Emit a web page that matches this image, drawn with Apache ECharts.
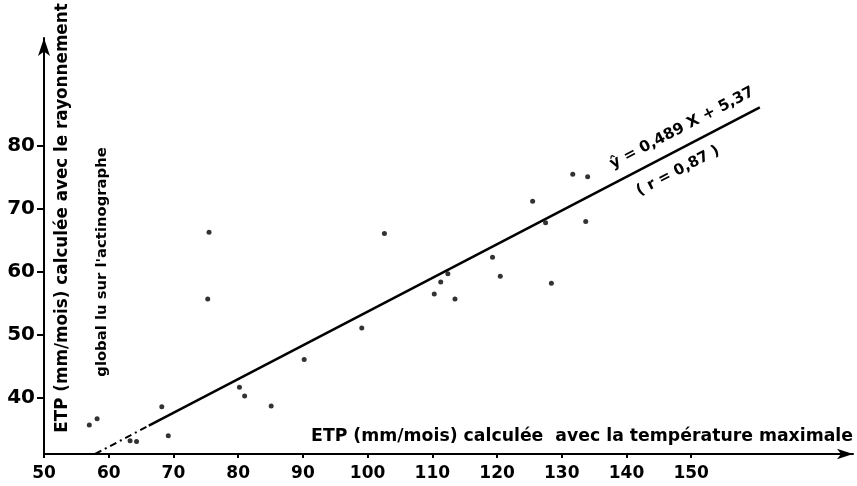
<!DOCTYPE html>
<html>
<head>
<meta charset="utf-8">
<script src="https://cdn.jsdelivr.net/npm/echarts@6/dist/echarts.min.js"></script>
<style>
  html, body { margin: 0; padding: 0; background: #fff; }
  #chart { width: 857px; height: 486px; }
</style>
</head>
<body>
<div id="chart"></div>
<script>
// ETP température maximale (x) / ETP rayonnement global (y)
const etpTmax = [57.0, 58.2, 63.3, 64.3, 68.2, 69.2, 75.3, 75.5, 80.2, 81.0, 85.1, 90.2, 99.1,
  102.6, 110.3, 111.3, 112.4, 113.5, 119.3, 120.5, 125.5, 127.5, 128.4, 131.7, 133.7, 134.0];
const etpRayon = [35.7, 36.7, 33.2, 33.1, 38.6, 34.0, 55.7, 66.3, 41.7, 40.3, 38.7, 46.1, 51.1,
  66.1, 56.5, 58.4, 59.7, 55.7, 62.3, 59.3, 71.2, 67.8, 58.2, 75.5, 68.0, 75.1];

// droite de régression telle que tracée (partie pointillée puis pleine)
const droiteTiretsX = [57.9, 66.2];
const droiteTiretsY = [31.1, 35.6];
const droiteX = [66.2, 160.6];
const droiteY = [35.6, 86.1];

const xTicks = [50, 60, 70, 80, 90, 100, 110, 120, 130, 140, 150];
const yTicks = [40, 50, 60, 70, 80];

const titreX = "ETP (mm/mois) calculée  avec la température maximale";
const titreY1 = "ETP (mm/mois) calculée avec le rayonnement";
const titreY2 = "global lu sur l'actinographe";
const equation = "ŷ = 0,489 X + 5,37";
const correlation = "( r = 0,87 )";

const font = "DejaVu Sans";
const chart = echarts.init(document.getElementById("chart"));

const zip = (xs, ys) => xs.map((x, i) => [x, ys[i]]);

const option = {
    backgroundColor: "#fff",
    animation: false,
    grid: { left: 44, right: 4, top: 38, bottom: 32 },
    xAxis: {
        type: "value",
        min: 50,
        max: 175,
        splitLine: { show: false },
        axisLine: {
            lineStyle: { color: "#000", width: 2 },
            symbol: ["none", "arrow"],
            symbolSize: [8, 16]
        },
        axisTick: { customValues: xTicks, length: 4, lineStyle: { color: "#000", width: 2 } },
        axisLabel: {
            customValues: xTicks,
            margin: 11,
            color: "#000",
            fontFamily: font,
            fontWeight: "bold",
            fontSize: 17
        }
    },
    yAxis: {
        type: "value",
        min: 31.1,
        max: 97.1,
        splitLine: { show: false },
        axisLine: {
            lineStyle: { color: "#000", width: 2 },
            symbol: ["none", "arrow"],
            symbolSize: [9, 18]
        },
        axisTick: { customValues: yTicks, length: 7, lineStyle: { color: "#000", width: 2 } },
        axisLabel: {
            customValues: yTicks,
            margin: 9,
            color: "#000",
            fontFamily: font,
            fontWeight: "bold",
            fontSize: 20
        }
    },
    series: [
        {
            type: "scatter",
            data: zip(etpTmax, etpRayon),
            symbolSize: 5,
            itemStyle: { color: "#000" }
        },
        {
            type: "line",
            data: zip(droiteTiretsX, droiteTiretsY),
            symbol: "none",
            lineStyle: { color: "#000", width: 2, type: [7, 4, 2, 4] }
        },
        {
            type: "line",
            data: zip(droiteX, droiteY),
            symbol: "none",
            lineStyle: { color: "#000", width: 2.5 }
        }
    ],
    graphic: [
        {
            type: "text",
            x: 853, y: 437,
            style: {
                text: titreX, fill: "#000", font: "bold 17.3px '" + font + "'",
                align: "right", verticalAlign: "middle"
            }
        },
        {
            type: "text",
            x: 63, y: 218, rotation: Math.PI / 2,
            style: {
                text: titreY1, fill: "#000", font: "bold 16.8px '" + font + "'",
                align: "center", verticalAlign: "middle"
            }
        },
        {
            type: "text",
            x: 102, y: 262, rotation: Math.PI / 2,
            style: {
                text: titreY2, fill: "#000", font: "bold 14.8px '" + font + "'",
                align: "center", verticalAlign: "middle"
            }
        },
        {
            type: "text",
            x: 682, y: 128, rotation: 0.48,
            style: {
                text: equation, fill: "#000", font: "bold 15.3px '" + font + "'",
                align: "center", verticalAlign: "middle"
            }
        },
        {
            type: "text",
            x: 678, y: 171, rotation: 0.48,
            style: {
                text: correlation, fill: "#000", font: "bold 15px '" + font + "'",
                align: "center", verticalAlign: "middle"
            }
        }
    ]
};

chart.setOption(option);
</script>
</body>
</html>
